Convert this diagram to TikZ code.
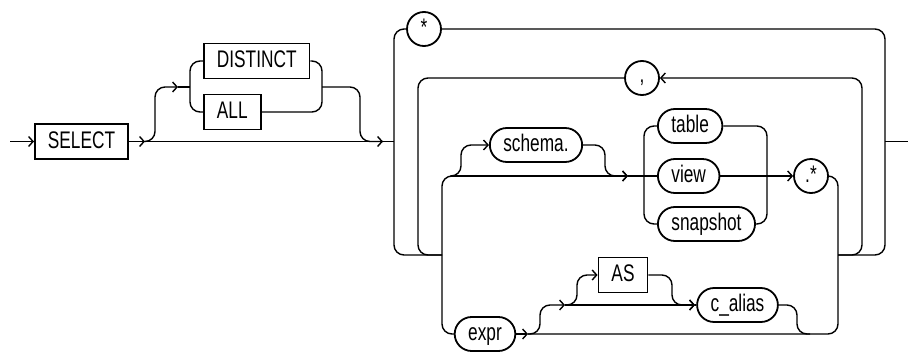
\documentclass[tikz,border=0pt]{standalone}
\usepackage{fontspec}
\setmainfont{Liberation Sans}[FakeStretch=0.72]
\usetikzlibrary{arrows.meta}
\begin{document}
\begin{tikzpicture}[x=1pt, y=-1pt,
    kw/.style={draw, line width=1.8pt, inner xsep=13pt, inner ysep=0pt,
      minimum height=35pt, text height=17pt, text depth=4pt,
      font=\fontsize{24}{26}\selectfont},
    nt/.style={kw, rounded corners=17pt, minimum height=34pt, inner xsep=13.5pt},
    sym/.style={kw, circle, inner sep=0pt, minimum size=34pt},
    rail/.style={line width=1.4pt, rounded corners=10pt},
    arr/.style={-{Straight Barb[length=4.5pt,width=10pt]}}]
  \useasboundingbox (0,0) rectangle (908,351);
  % keywords and names
  \node[kw] (select) at (81.5,141.5) {SELECT};
  \node[kw, anchor=west] (distinct) at (203,61) {DISTINCT};
  \node[kw, anchor=west] (all) at (203,112) {ALL};
  \node[sym] (star) at (424,29) {*};
  \node[sym, text height=8pt, text depth=0pt] (comma) at (642,78) {,};
  \node[nt] (schema) at (536,145) {schema.};
  \node[nt, anchor=west] (table) at (657,126) {table};
  \node[nt, anchor=west] (view) at (657,176) {view};
  \node[nt, anchor=west] (snapshot) at (657,224) {snapshot};
  \node[sym] (dotstar) at (811,176) {.*};
  \node[nt] (expr) at (485,334) {expr};
  \node[kw] (as) at (623,275) {AS};
  \node[nt] (calias) at (737.5,305) {c\_alias};
  % junctions
  \coordinate (in) at (10,141.5);
  \coordinate (s1) at (145,141.5);
  \coordinate (d1) at (178,87);
  \coordinate (m1) at (383,141.5);
  \coordinate (lj) at (442,255);
  \coordinate (rj) at (838,255);
  \coordinate (t0) at (452,176);
  \coordinate (t1) at (628,176);
  \coordinate (e1) at (528,334);
  \coordinate (e2) at (565,305);
  \coordinate (e3) at (695,305);
  \coordinate (out) at (908,141.5);
  % SELECT [DISTINCT|ALL]
  \draw[rail, arr] (in) -- (select);
  \draw[rail, arr] (select) -- (s1);
  \draw[rail, arr] (s1) -- (m1);
  \draw[rail, arr] (s1) -- (155,141.5) -- (155,87) -- (d1);
  \draw[rail] (d1) -- (190,87);
  \draw[rail] (distinct.west) -| (190,112) -- (all.west);
  \draw[rail] (distinct.east) -| (322,112) -- (all.east);
  \draw[rail] (322,87) -| (360,141.5) -- (m1);
  % outer loops
  \draw[rail] (m1) -- (394,141.5);
  \draw[rail] (star.west) -| (394,255) -- (lj);
  \draw[rail] (comma.west) -| (418,255) -- (lj);
  \draw[rail] (star.east) -| (885,255) -- (rj);
  \draw[rail, arr] (rj) -- (862,255) |- (comma.east);
  \draw[rail] (885,141.5) -- (out);
  % [schema.] table|view|snapshot .*
  \draw[rail] (t0) -| (442,334) -- (expr.west);
  \draw[rail, arr] (t0) -- (t1);
  \draw[rail] (t1) -- (view.west);
  \draw[rail, arr] (450,176) -- (461,176) |- (schema.west);
  \draw[rail, arr] (schema.east) -| (605,176) -- (t1);
  \draw[rail] (table.west) -| (644,224) -- (snapshot.west);
  \draw[rail] (table.east) -| (767,224) -- (snapshot.east);
  \draw[rail, arr] (view) -- (dotstar);
  % expr [[AS] c_alias]
  \draw[rail, arr] (expr) -- (e1);
  \draw[rail] (e1) -| (838,176) -- (dotstar.east);
  \draw[rail, arr] (e1) -- (540,334) |- (e2);
  \draw[rail, arr] (e2) -- (e3);
  \draw[rail] (e3) -- (calias.west);
  \draw[rail, arr] (e2) -- (577,305) |- (as.west);
  \draw[rail, arr] (as.east) -| (672,305) -- (e3);
  \draw[rail] (calias.east) -| (797,334) -- (810,334);
\end{tikzpicture}
\end{document}
